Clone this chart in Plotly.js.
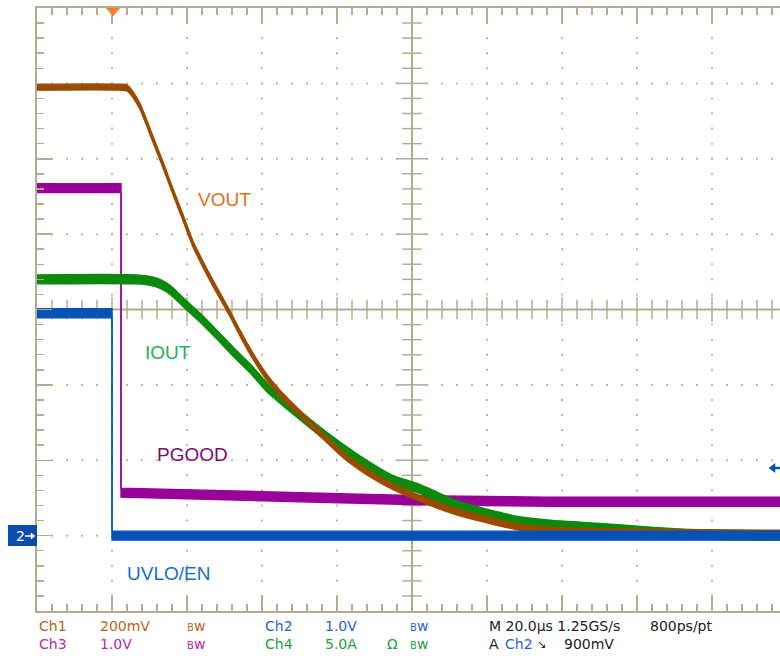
<!DOCTYPE html>
<html><head><meta charset="utf-8">
<script src="https://cdn.plot.ly/plotly-3.0.1.min.js"></script>
<style>html,body{margin:0;padding:0;background:#fff;overflow:hidden}#chart{width:780px;height:656px}</style>
</head><body><div id="chart"></div>
<script>
// ---------------- DATA (time in µs relative to trigger, amplitude in screen divisions) ----------------
const vout_t   = [-20,2,4,5.6,7.5,9.3,11,13.6,16.3,19,21.6,25.3,28.8,31.5,34.1,37.6,41.3,44.8,48.3,55.5,62.7,71.5,80.3,91,100,108.8,117.6,135.5,180];
const vout_div = [2.95,2.95,2.94,2.85,2.69,2.47,2.25,1.92,1.56,1.21,0.87,0.50,0.18,-0.06,-0.31,-0.62,-0.90,-1.11,-1.29,-1.64,-1.97,-2.26,-2.47,-2.67,-2.79,-2.89,-2.93,-2.95,-2.97];

const iout_t   = [-20,6.1,10.1,12.8,15.5,18.1,20,23.5,27.5,32.3,36.8,41.3,49.3,57.3,66.1,74.9,82.1,91,100,108.8,117.6,130.9,144.3,160,180];
const iout_div = [0.40,0.40,0.38,0.34,0.26,0.14,0.05,-0.11,-0.31,-0.56,-0.78,-1.03,-1.37,-1.69,-2.00,-2.26,-2.38,-2.58,-2.71,-2.81,-2.86,-2.90,-2.95,-2.99,-3.00];

const pgood_t   = [-20,2.4,2.4,23.5,50.1,82.1,116.8,180];
const pgood_div = [1.61,1.61,-2.43,-2.46,-2.49,-2.53,-2.55,-2.55];

const uvlo_t   = [-20,0,0,180];
const uvlo_div = [-0.05,-0.05,-3.0,-3.0];

const channelLabels = ['VOUT','IOUT','PGOOD','UVLO/EN'];
const statusRow1 = ['Ch1','200mV','Bw','Ch2','1.0V','Bw','M 20.0µs 1.25GS/s','800ps/pt'];
const statusRow2 = ['Ch3','1.0V','Bw','Ch4','5.0A','Ω','Bw','A','Ch2','↘','900mV'];
const ch2Marker = '2';

// ---------------- LAYOUT / STYLE ----------------
const L=37, T=8, R=780, B=611;
const PW=R-L, PH=B-T;
const DIVX=75, DIVY=PH/8;
const px = x => (x-L)/PW;
const py = y => (B-y)/PH;
const P = (x,y) => px(x)+','+py(y);
const xMax = -20 + PW/DIVX*20;

const GRAT = '#B5AC92', DOT = '#BDB6A6';
const C_VOUT='#9A4B00', C_IOUT='#0B8A0B', C_PG='#990099', C_UV='#0452B5';

function band(t, y, hpx, color, smooth){
  const h = hpx/DIVY;
  const ln = smooth ? {color:color,width:1.4,shape:'spline',smoothing:0.7} : {color:color,width:1.4};
  return [
    {x:t, y:y.map(v=>v+h), mode:'lines', line:ln, hoverinfo:'skip'},
    {x:t, y:y.map(v=>v-h), mode:'lines', line:ln, fill:'tonexty', fillcolor:color, hoverinfo:'skip'}
  ];
}

// graticule dots
const dx=[], dy=[];
for(let k=1;k<=9;k++){ if(k===5) continue; const t=-20+20*k; for(let j=1;j<40;j++){ dx.push(t); dy.push(-4+0.2*j); } }
for(let m=-3;m<=3;m++){ if(m===0) continue; for(let i=1;i<50;i++){ const t=-20+4*i; if(t===80||t>xMax) continue; dx.push(t); dy.push(m);} }
// center-line ticks
const hx=[], hy=[], hxM=[], hyM=[];
for(let i=1;i<50;i++){ const t=-20+4*i; if(t>xMax||t===80) continue; if(i%5===0){hxM.push(t);hyM.push(0);} else {hx.push(t);hy.push(0);} }
const vx=[], vy=[], vxM=[], vyM=[];
for(let j=1;j<40;j++){ const y=-4+0.2*j; if(j%5===0){ if(j!==20){vxM.push(80);vyM.push(y);} } else {vx.push(80);vy.push(y);} }

const deco = [
  {x:dx,y:dy,mode:'markers',marker:{symbol:'square',size:2,color:DOT},hoverinfo:'skip'},
  {x:hx,y:hy,mode:'markers',marker:{symbol:'line-ns',size:14,line:{color:GRAT,width:1.5}},hoverinfo:'skip'},
  {x:hxM,y:hyM,mode:'markers',marker:{symbol:'line-ns',size:18,line:{color:GRAT,width:1.5}},hoverinfo:'skip'},
  {x:vx,y:vy,mode:'markers',marker:{symbol:'line-ew',size:14,line:{color:GRAT,width:1.5}},hoverinfo:'skip'},
  {x:vxM,y:vyM,mode:'markers',marker:{symbol:'line-ew',size:22,line:{color:GRAT,width:1.5}},hoverinfo:'skip'}
];

const data = deco
  .concat(band(pgood_t, pgood_div, 4.5, C_PG, false))
  .concat(band(iout_t, iout_div, 4.5, C_IOUT, true))
  .concat(band(vout_t, vout_div, 3, C_VOUT, true))
  .concat(band(uvlo_t, uvlo_div, 4.5, C_UV, false));

// annotations
const ann = [];
const labFont = (c)=>({family:'Liberation Sans, Arial, sans-serif', size:19, color:c});
const labPos = [[22.4,1.453,'#E2711D'],[8.3,-0.564,'#1DB356'],[11.5,-1.93,'#7A0A70'],[3.5,-3.496,'#1570C8']];
channelLabels.forEach((s,i)=>ann.push({x:labPos[i][0],y:labPos[i][1],xref:'x',yref:'y',text:s,showarrow:false,xanchor:'left',yanchor:'middle',font:labFont(labPos[i][2])}));

const CH1='#B8651B', CH3='#B02AB0', CH2='#2A62D0', CH4='#1E9E3C', BLK='#222222';
const fmt = s => s==='Bw' ? '<span style="font-size:10px">B</span>w' : s;
const r1x=[37,98,185,263,323,408,487,648], r1c=[CH1,CH1,CH1,CH2,CH2,CH2,BLK,BLK];
const r2x=[37,98,185,263,323,385,408,487,503,535,562], r2c=[CH3,CH3,CH3,CH4,CH4,CH4,CH4,BLK,CH2,BLK,BLK];
statusRow1.forEach((s,i)=>ann.push({x:px(r1x[i]),y:py(626),xref:'paper',yref:'paper',text:fmt(s),showarrow:false,xanchor:'left',yanchor:'middle',font:{family:'DejaVu Sans',size:14,color:r1c[i]}}));
statusRow2.forEach((s,i)=>ann.push({x:px(r2x[i]),y:py(644),xref:'paper',yref:'paper',text:fmt(s),showarrow:false,xanchor:'left',yanchor:'middle',font:{family:'DejaVu Sans',size:s==='↘'?11:14,color:r2c[i]}}));
ann.push({x:px(14),y:py(536),xref:'paper',yref:'paper',text:ch2Marker,showarrow:false,xanchor:'left',yanchor:'middle',font:{family:'DejaVu Sans',size:14,color:'#ffffff'}});

const shapes = [
  {type:'line',xref:'x',yref:'paper',x0:80,x1:80,y0:0,y1:1,line:{color:GRAT,width:2},layer:'below'},
  {type:'line',xref:'paper',yref:'y',x0:0,x1:1,y0:0,y1:0,line:{color:GRAT,width:2},layer:'below'},
  {type:'rect',xref:'paper',yref:'paper',x0:px(8),x1:px(37),y0:py(546),y1:py(525),fillcolor:'#0A4DB0',line:{width:0}},
  {type:'path',xref:'paper',yref:'paper',path:'M'+P(25,536)+'L'+P(32,536),line:{color:'#ffffff',width:1.5}},
  {type:'path',xref:'paper',yref:'paper',path:'M'+P(31,533)+'L'+P(35,536)+'L'+P(31,539)+'Z',fillcolor:'#ffffff',line:{color:'#ffffff',width:0.5}},
  {type:'path',xref:'paper',yref:'paper',path:'M'+P(106,8)+'L'+P(120,8)+'L'+P(113,16)+'Z',fillcolor:'#FF7A2A',line:{color:'#FF7A2A',width:0.5}},
  {type:'path',xref:'paper',yref:'paper',path:'M'+P(774,468)+'L'+P(780,468),line:{color:C_UV,width:2.5}},
  {type:'path',xref:'paper',yref:'paper',path:'M'+P(769,468)+'L'+P(775,463.5)+'L'+P(775,472.5)+'Z',fillcolor:C_UV,line:{color:C_UV,width:0.5}}
];

const layout = {
  width:780, height:656,
  margin:{l:L, r:780-R, t:T, b:656-B, pad:0},
  paper_bgcolor:'#ffffff', plot_bgcolor:'#ffffff',
  showlegend:false, hovermode:false,
  xaxis:{range:[-20,xMax], showgrid:false, zeroline:false, showticklabels:false,
    showline:true, linecolor:GRAT, linewidth:2, mirror:'allticks',
    ticks:'inside', tick0:-20, dtick:20, ticklen:15, tickwidth:1.5, tickcolor:GRAT,
    minor:{ticks:'inside', tick0:-20, dtick:4, ticklen:7, tickwidth:1.5, tickcolor:GRAT, showgrid:false}},
  yaxis:{range:[-4,4], showgrid:false, zeroline:false, showticklabels:false,
    showline:true, linecolor:GRAT, linewidth:2,
    ticks:'inside', tick0:-4, dtick:1, ticklen:15, tickwidth:1.5, tickcolor:GRAT,
    minor:{ticks:'inside', tick0:-4, dtick:0.2, ticklen:7, tickwidth:1.5, tickcolor:GRAT, showgrid:false}},
  annotations:ann, shapes:shapes
};

Plotly.newPlot('chart', data, layout, {staticPlot:true, displayModeBar:false});
</script></body></html>
